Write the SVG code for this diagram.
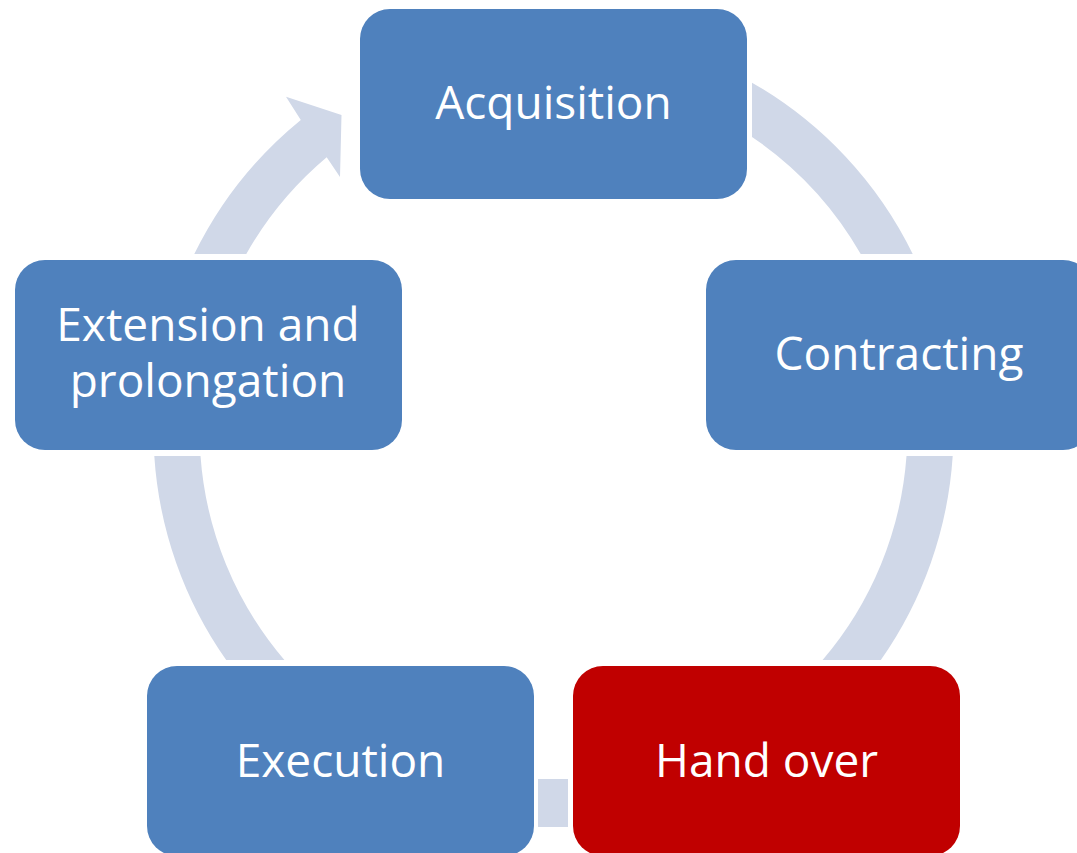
<svg xmlns="http://www.w3.org/2000/svg" width="1077" height="853" viewBox="0 0 1077 853">
<style>
.arc{fill:#D0D8E8;stroke:none}
.box{fill:#4F81BD}
.red{fill:#C00000}
.lbl{font-family:"Open Sans","Liberation Sans",sans-serif;font-size:46px;fill:#FFFFFF;text-anchor:middle}
</style>
<rect width="1077" height="853" fill="#FFFFFF"/>
<g id="connectors">
<path class="arc" d="M752,82.7 A400,400 0 0,1 912.7,254 L860.7,254 A354,354 0 0,0 752,136.9 Z"/>
<path class="arc" d="M952.7,456 A400,400 0 0,1 880.8,660 L822.6,660 A354,354 0 0,0 906.5,456 Z"/>
<path class="arc" d="M154.3,456 A400,400 0 0,0 226.2,660 L284.4,660 A354,354 0 0,1 200.5,456 Z"/>
<rect class="arc" x="538" y="779" width="30" height="48"/>
<path class="arc" d="M194.3,254 A400,400 0 0,1 300.8,119.9 L286,96.7 L341.5,115 L340,177 L326.7,157.3 A354,354 0 0,0 246.3,254 Z"/>
</g>
<g id="acquisition">
<rect class="box" x="360" y="9" width="387" height="190" rx="30" ry="30"/>
<text class="lbl" x="553.5" y="119">Acquisition</text>
</g>
<g id="contracting">
<rect class="box" x="706" y="260" width="387" height="190" rx="30" ry="30"/>
<text class="lbl" x="899" y="370">Contracting</text>
</g>
<g id="handover">
<rect class="red" x="573" y="666" width="387" height="190" rx="30" ry="30"/>
<text class="lbl" x="766.5" y="777">Hand over</text>
</g>
<g id="execution">
<rect class="box" x="147" y="666" width="387" height="190" rx="30" ry="30"/>
<text class="lbl" x="340.5" y="777">Execution</text>
</g>
<g id="extension">
<rect class="box" x="15" y="260" width="387" height="190" rx="30" ry="30"/>
<text class="lbl" x="208" y="341">Extension and</text>
<text class="lbl" x="208" y="397">prolongation</text>
</g>
</svg>
